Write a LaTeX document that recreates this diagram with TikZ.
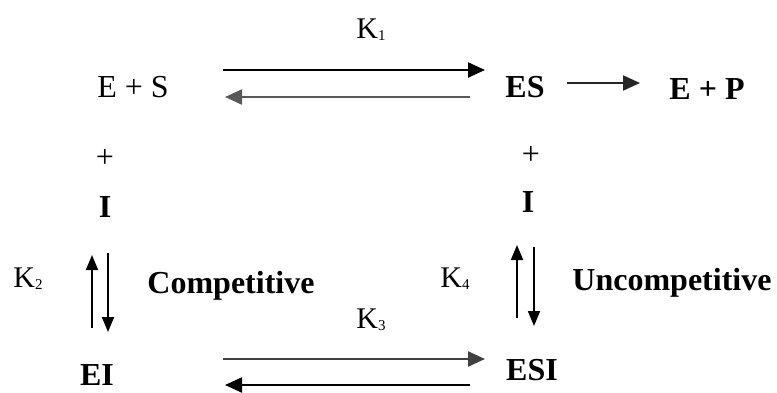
\documentclass[tikz,border=0pt]{standalone}
\usepackage{fontspec}
\setmainfont{Liberation Serif}
\usetikzlibrary{arrows.meta}
\newcommand{\ksub}[1]{\raisebox{-0.2ex}{\fontsize{15}{15}\selectfont #1}}
\begin{document}
\begin{tikzpicture}[x=1pt,y=-1pt,
  txt/.style={inner sep=0pt,anchor=base,font=\fontsize{32}{36}\selectfont},
  btxt/.style={txt,font=\fontsize{32}{36}\selectfont\bfseries},
  klab/.style={inner sep=0pt,anchor=base,font=\fontsize{30}{34}\selectfont},
  harrow/.style={line width=2.2pt,-{Triangle[length=17pt,width=15pt]}},
  varrow/.style={line width=1.8pt,-{Triangle[length=15pt,width=12pt]}}]
\useasboundingbox (0,0) rectangle (777,392);
% nodes
\node[txt]  (es0) at (133,97) {E + S};
\node[btxt] (es)  at (525,97) {ES};
\node[btxt] (ep)  at (707,99) {E + P};
\node[klab] (k1)  at (371,38) {K\ksub{1}};
\node[txt,anchor=center] (p1) at (105,158) {+};
\node[txt,anchor=center] (p2) at (531,155) {+};
\node[btxt] (i1)  at (105,217) {I};
\node[btxt] (i2)  at (528,212) {I};
\node[klab] (k2)  at (28,287) {K\ksub{2}};
\node[btxt] (comp) at (231,293) {Competitive};
\node[klab] (k4)  at (455,287) {K\ksub{4}};
\node[btxt] (unc) at (672,290) {Uncompetitive};
\node[klab] (k3)  at (371,328) {K\ksub{3}};
\node[btxt] (ei)  at (97,385) {EI};
\node[btxt] (esi) at (532,380) {ESI};
% arrow end points
\coordinate (a1s) at (223,70);  \coordinate (a1e) at (485,70);
\coordinate (a2s) at (470,97);  \coordinate (a2e) at (225,97);
\coordinate (a3s) at (567,83);  \coordinate (a3e) at (640,83);
\coordinate (a4s) at (92,328);  \coordinate (a4e) at (92,255);
\coordinate (a5s) at (108,253); \coordinate (a5e) at (108,332);
\coordinate (a6s) at (517,318); \coordinate (a6e) at (517,245);
\coordinate (a7s) at (534,247); \coordinate (a7e) at (534,326);
\coordinate (a8s) at (223,359); \coordinate (a8e) at (485,359);
\coordinate (a9s) at (470,385); \coordinate (a9e) at (225,385);
% arrows
\draw[harrow] (a1s) -- (a1e);
\draw[harrow,draw=black!65,fill=black] (a2s) -- (a2e);
\draw[harrow,black!85] (a3s) -- (a3e);
\draw[varrow] (a4s) -- (a4e);
\draw[varrow] (a5s) -- (a5e);
\draw[varrow] (a6s) -- (a6e);
\draw[varrow] (a7s) -- (a7e);
\draw[harrow,draw=black!75,fill=black] (a8s) -- (a8e);
\draw[harrow] (a9s) -- (a9e);
\end{tikzpicture}
\end{document}
